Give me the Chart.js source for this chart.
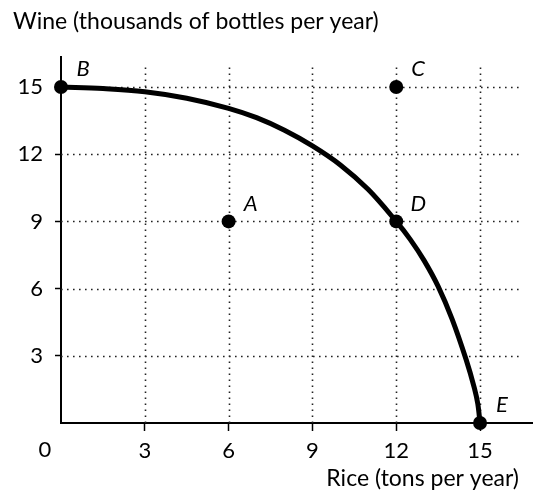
<!DOCTYPE html>
<html>
<head>
<meta charset="utf-8">
<script src="https://cdn.jsdelivr.net/npm/chart.js@4"></script>
<style>
  html, body { margin: 0; padding: 0; background: #fff; }
  #wrap { position: relative; width: 539px; height: 493px; }
</style>
</head>
<body>
<div id="wrap"><canvas id="grafico" width="539" height="493"></canvas></div>
<script>
// curva de posibilidades de produccion
const arrozPPF = [0, 1.5, 3, 4.5, 6, 7, 8, 9, 10, 11, 12, 12.5, 13, 13.5, 14, 14.5, 14.8, 14.92, 15];
const vinoPPF  = [15, 14.93, 14.79, 14.5, 14.05, 13.63, 13.07, 12.37, 11.52, 10.42, 9, 8.2, 7.25, 6.1, 4.64, 2.84, 1.55, 0.85, 0];

// puntos con nombre
const etiquetas = ["A", "B", "C", "D", "E"];
const arrozPuntos = [6, 0, 12, 12, 15];
const vinoPuntos  = [9, 15, 15, 9, 0];

const ticksArroz = [3, 6, 9, 12, 15];
const ticksVino  = [3, 6, 9, 12, 15];
const limiteGrillaArroz = 16.43;
const limiteGrillaVino = 16;
const maxArroz = 16.86;
const maxVino = 16.34;

const tituloY = "Wine (thousands of bottles per year)";
const tituloX = "Rice (tons per year)";

const FUENTE = "Lato, 'Open Sans', sans-serif";

const grillaPunteada = {
  id: 'grillaPunteada',
  beforeDatasetsDraw(chart) {
    const { ctx, scales: { x, y } } = chart;
    ctx.save();
    ctx.strokeStyle = '#222';
    ctx.lineWidth = 1.6;
    ctx.setLineDash([1.6, 4.4]);
    ticksArroz.forEach(v => {
      const px = Math.round(x.getPixelForValue(v)) + 0.5;
      ctx.beginPath();
      ctx.moveTo(px, y.getPixelForValue(0));
      ctx.lineTo(px, y.getPixelForValue(limiteGrillaVino));
      ctx.stroke();
    });
    ticksVino.forEach(v => {
      const py = Math.round(y.getPixelForValue(v)) + 0.5;
      ctx.beginPath();
      ctx.moveTo(x.getPixelForValue(0), py);
      ctx.lineTo(x.getPixelForValue(limiteGrillaArroz), py);
      ctx.stroke();
    });
    ctx.restore();
  },
  afterDraw(chart) {
    const { ctx, scales: { x, y } } = chart;
    ctx.save();
    ctx.fillStyle = '#000';
    // titulos
    ctx.font = "23px " + FUENTE;
    ctx.textBaseline = 'alphabetic';
    ctx.textAlign = 'left';
    ctx.fillText(tituloY, 13, 29);
    ctx.textAlign = 'right';
    ctx.fillText(tituloX, 519, 486);
    // cero del origen
    ctx.font = "22px " + FUENTE;
    ctx.textAlign = 'center';
    ctx.textBaseline = 'middle';
    ctx.fillText("0", 45, 450);
    // etiquetas de puntos
    ctx.font = "italic 22px " + FUENTE;
    etiquetas.forEach((t, i) => {
      const px = x.getPixelForValue(arrozPuntos[i]);
      const py = y.getPixelForValue(vinoPuntos[i]);
      ctx.fillText(t, px + 22, py - 18);
    });
    ctx.restore();
  }
};

new Chart(document.getElementById("grafico"), {
  type: 'line',
  data: {
    datasets: [
      {
        label: 'PPF',
        data: arrozPPF.map((v, i) => ({ x: v, y: vinoPPF[i] })),
        borderColor: '#000',
        borderWidth: 5,
        pointRadius: 0,
        tension: 0.35,
        fill: false,
        clip: false
      },
      {
        label: 'Puntos',
        data: arrozPuntos.map((v, i) => ({ x: v, y: vinoPuntos[i] })),
        showLine: false,
        pointRadius: 7,
        pointBackgroundColor: '#000',
        pointBorderColor: '#000',
        pointBorderWidth: 0,
        clip: false
      }
    ]
  },
  options: {
    responsive: false,
    animation: false,
    events: [],
    layout: { padding: { top: 57, right: 7, left: 0, bottom: 0 } },
    plugins: { legend: { display: false }, tooltip: { enabled: false }, title: { display: false } },
    scales: {
      x: {
        type: 'linear',
        min: 0, max: maxArroz,
        afterFit: s => { s.height = 70; },
        afterBuildTicks: s => { s.ticks = ticksArroz.map(v => ({ value: v })); },
        ticks: { color: '#000', font: { family: FUENTE, size: 22 }, padding: 7, maxRotation: 0 },
        grid: { drawOnChartArea: false, drawTicks: true, tickLength: 8, tickColor: '#000', tickWidth: 1.5 },
        border: { color: '#000', width: 2 }
      },
      y: {
        type: 'linear',
        min: 0, max: maxVino,
        afterFit: s => { s.width = 61; },
        afterBuildTicks: s => { s.ticks = ticksVino.map(v => ({ value: v })); },
        ticks: { color: '#000', font: { family: FUENTE, size: 22 }, padding: 12 },
        grid: { drawOnChartArea: false, drawTicks: true, tickLength: 6, tickColor: '#000', tickWidth: 1.5 },
        border: { color: '#000', width: 2 }
      }
    }
  },
  plugins: [grillaPunteada]
});
</script>
</body>
</html>
